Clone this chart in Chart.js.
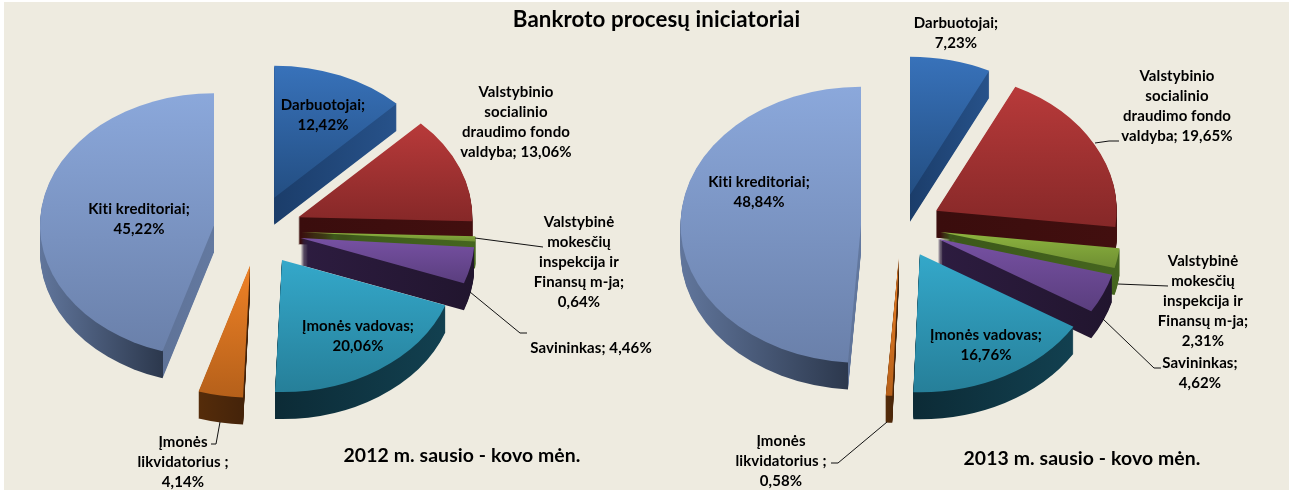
<!DOCTYPE html>
<html><head><meta charset="utf-8">
<style>
html,body{margin:0;padding:0;background:#fff;width:1295px;height:490px;overflow:hidden}
#panel{position:absolute;left:4px;top:2px;width:1285px;height:488px;background:#EEEBE0}
canvas{position:absolute;left:0;top:0;filter:blur(0.4px)}
</style>
<script src="https://cdn.jsdelivr.net/npm/chart.js@4"></script>
</head><body>
<div id="panel"></div>
<canvas id="c2012" width="1295" height="490"></canvas>
<canvas id="c2013" width="1295" height="490"></canvas>
<script>
const mainTitle = 'Bankroto procesų iniciatoriai';
const categories = ['Darbuotojai','Valstybinio socialinio draudimo fondo valdyba','Valstybinė mokesčių inspekcija ir Finansų m-ja','Savininkas','Įmonės vadovas','Įmonės likvidatorius','Kiti kreditoriai'];
const values2012 = [12.42,13.06,0.64,4.46,20.06,4.14,45.22];
const values2013 = [7.23,19.65,2.31,4.62,16.76,0.58,48.84];
const subtitle2012 = '2012 m. sausio - kovo mėn.';
const subtitle2013 = '2013 m. sausio - kovo mėn.';

const labelLines = [['Darbuotojai;'],['Valstybinio','socialinio','draudimo fondo','valdyba;'],['Valstybinė','mokesčių','inspekcija ir','Finansų m-ja;'],['Savininkas;'],['Įmonės vadovas;'],['Įmonės','likvidatorius ;'],['Kiti kreditoriai;']];
const topColors = [['#3872BA','#234E82'],['#B83A3A','#862828'],['#8DB43F','#6E8E32'],['#7751A3','#5A3E7E'],['#34A8CA','#267F99'],['#F08226','#B5601A'],['#8BA8DB','#6A80AA']];
const sideColors = [['#1B3D6A','#27528A'],['#3A0D0D','#420F0F'],['#3B5719','#45651F'],['#2D1C40','#21152E'],['#0C2B36','#124050'],['#552C0A','#42220A'],['#61769C','#2C384D','#5F7398','#6379A0']];

const layout2012 = {cx:257.5, cy:230.5, rx:174, ry:132, explodeX:44, explodeY:35.5, depth:27,
  inline:[false,true,false,true,false,false,false],
  labelAt:[[323,105],[516,92],[579,222],[591,348],[358,326],[183,442],[139,209]],
  leaders:[[[475,238],[543,247]],[[470,292],[520,333],[527,333]],[[220,422],[216,444],[211,444]]],
  sub:[462,456]};
const layout2013 = {cx:901, cy:226, rx:180.5, ry:138, explodeX:40, explodeY:32, depth:27,
  inline:[false,true,false,false,false,false,false],
  labelAt:[[956,23],[1177,76],[1203,261],[1200,363],[986,335],[781,441],[759,182]],
  leaders:[[[1095,143],[1109,141],[1119,141]],[[1118,284],[1168,286]],[[1103,319],[1154,368],[1161,368]],[[887,422],[838,463],[831,463]]],
  sub:[1082,459]};

const FONT = 'Lato, "Open Sans", sans-serif';
const fmt = v => v.toFixed(2).replace('.',',') + '%';

function pie3d(layout, values, sub, isFirst){
  return {
    id:'pie3d',
    beforeDatasetsDraw(chart){
      const ctx = chart.ctx, arcs = chart.getDatasetMeta(0).data;
      arcs.forEach((el,i)=>{
        const R = el.outerRadius, sx = layout.rx/R, sy = layout.ry/R;
        const mid = (el.startAngle+el.endAngle)/2;
        const ox = layout.cx + Math.cos(mid)*layout.explodeX, oy = layout.cy + Math.sin(mid)*layout.explodeY;
        const angs=[el.startAngle,el.endAngle];
        for(let k=-4;k<=8;k++){const a=k*Math.PI/2; if(a>el.startAngle&&a<el.endAngle) angs.push(a);}
        const xs=[0,...angs.map(a=>Math.cos(a)*R)], ys=[0,...angs.map(a=>Math.sin(a)*R)];
        const minX=Math.min(...xs),maxX=Math.max(...xs),minY=Math.min(...ys),maxY=Math.max(...ys);
        const base = el.options;
        const place = dy => {ctx.translate(ox,oy+dy);ctx.scale(sx,sy);ctx.translate(-el.x,-el.y);};
        const sg = ctx.createLinearGradient(el.x+minX,0,el.x+maxX,0);
        const sc = sideColors[i];
        if(sc.length===4){
          const tip=(Math.cos(el.startAngle)*R-minX)/(maxX-minX);
          sg.addColorStop(0,sc[0]);sg.addColorStop(tip,sc[1]);sg.addColorStop(Math.min(1,tip+0.002),sc[2]);sg.addColorStop(1,sc[3]);
        } else {sg.addColorStop(0,sc[0]);sg.addColorStop(1,sc[1]);}
        const side = Object.create(base); side.backgroundColor = sg;
        el.options = side;
        for(let k=layout.depth;k>=1;k--){ctx.save();place(k);el.draw(ctx);ctx.restore();}
        const tg = ctx.createLinearGradient(0,el.y+minY,0,el.y+maxY);
        tg.addColorStop(0,topColors[i][0]);tg.addColorStop(1,topColors[i][1]);
        const top = Object.create(base); top.backgroundColor = tg;
        el.options = top;
        ctx.save();place(0);el.draw(ctx);ctx.restore();
        el.options = base;
      });
      return false;
    },
    afterDraw(chart){
      const ctx = chart.ctx;
      ctx.save();
      ctx.strokeStyle='#111';ctx.lineWidth=1;
      layout.leaders.forEach(pts=>{ctx.beginPath();pts.forEach((p,j)=>j?ctx.lineTo(p[0],p[1]):ctx.moveTo(p[0],p[1]));ctx.stroke();});
      ctx.fillStyle='#000';ctx.textAlign='center';ctx.textBaseline='middle';
      ctx.letterSpacing='0.1px';
      ctx.font='bold 15px '+FONT;
      categories.forEach((c,i)=>{
        const lines=labelLines[i].slice();
        if(layout.inline[i]) lines[lines.length-1]+=' '+fmt(values[i]); else lines.push(fmt(values[i]));
        lines.forEach((t,j)=>ctx.fillText(t,layout.labelAt[i][0],layout.labelAt[i][1]+j*20));
      });
      ctx.font='bold 19.4px '+FONT;
      ctx.fillText(sub,layout.sub[0],layout.sub[1]);
      if(isFirst){ctx.font='bold 22.3px '+FONT;ctx.fillText(mainTitle,656.5,20);}
      ctx.restore();
    }
  };
}
function make(id,values,layout,sub,isFirst){
  new Chart(document.getElementById(id),{
    type:'pie',
    data:{labels:categories,datasets:[{data:values,borderWidth:0,backgroundColor:topColors.map(c=>c[0])}]},
    options:{responsive:false,animation:false,events:[],layout:{padding:0},plugins:{legend:{display:false},tooltip:{enabled:false}}},
    plugins:[pie3d(layout,values,sub,isFirst)]
  });
}
make('c2012',values2012,layout2012,subtitle2012,true);
make('c2013',values2013,layout2013,subtitle2013,false);
</script>
</body></html>
